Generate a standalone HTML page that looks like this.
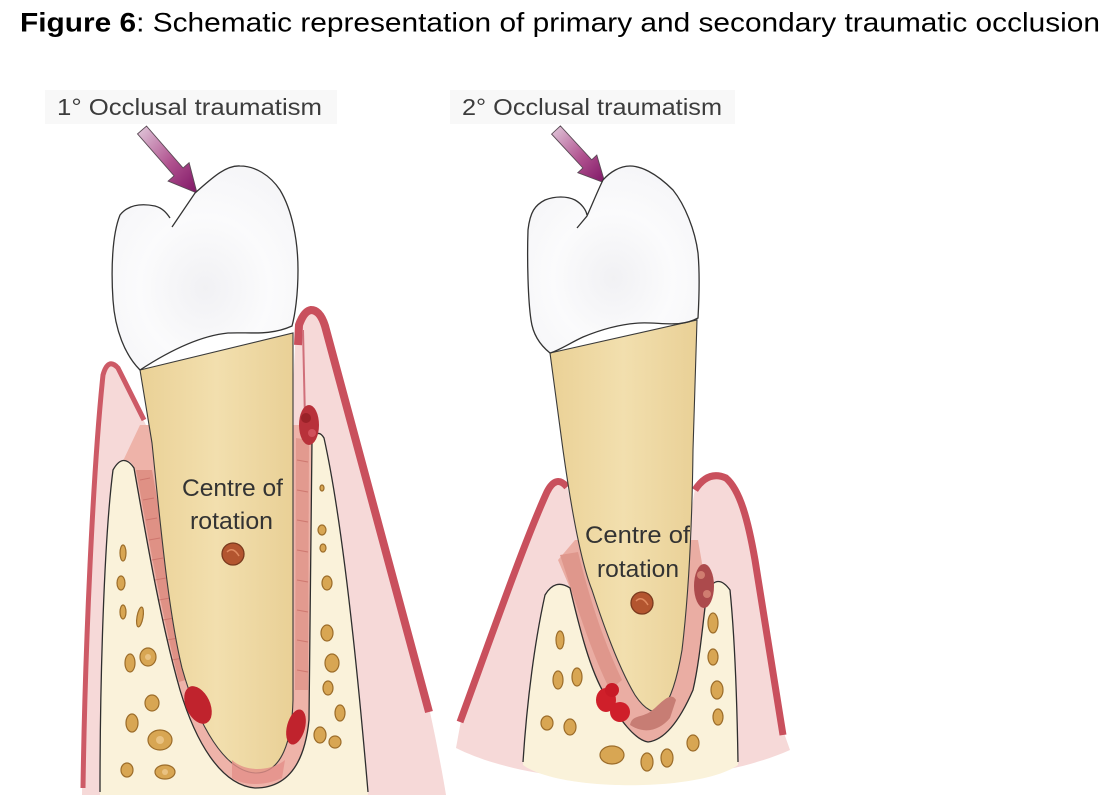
<!DOCTYPE html>
<html>
<head>
<meta charset="utf-8">
<style>
  html, body { margin: 0; padding: 0; background: #ffffff; }
  body { width: 1110px; height: 810px; overflow: hidden; }
  svg { display: block; }
  text { font-family: "Liberation Sans", Arial, sans-serif; }
</style>
</head>
<body>
<svg width="1110" height="810" viewBox="0 0 1110 810" xmlns="http://www.w3.org/2000/svg">
  <defs>
    <linearGradient id="arrowG" x1="0" y1="0" x2="1" y2="1">
      <stop offset="0" stop-color="#e2cbdc"/>
      <stop offset="0.55" stop-color="#b0528f"/>
      <stop offset="1" stop-color="#7e1565"/>
    </linearGradient>
    <radialGradient id="crownG" cx="0.5" cy="0.6" r="0.7">
      <stop offset="0" stop-color="#f1f1f4"/>
      <stop offset="0.5" stop-color="#fbfbfc"/>
      <stop offset="1" stop-color="#f4f4f7"/>
    </radialGradient>
    <linearGradient id="rootG" x1="0" y1="0" x2="1" y2="0">
      <stop offset="0" stop-color="#ead196"/>
      <stop offset="0.5" stop-color="#f2dfae"/>
      <stop offset="1" stop-color="#e9d096"/>
    </linearGradient>
  </defs>

  <rect width="1110" height="810" fill="#ffffff"/>

  <!-- Title -->
  <text x="20" y="31.5" font-size="27" fill="#000" textLength="1080" lengthAdjust="spacingAndGlyphs"><tspan font-weight="bold">Figure 6</tspan>: Schematic representation of primary and secondary traumatic occlusion</text>

  <!-- label backgrounds -->
  <rect x="45" y="90" width="292" height="34" fill="#f8f8f8"/>
  <rect x="450" y="90" width="285" height="34" fill="#f8f8f8"/>

  <!-- ================= LEFT FIGURE ================= -->
  <text x="57" y="115" font-size="23" fill="#3c3c3c" textLength="265" lengthAdjust="spacingAndGlyphs">1° Occlusal traumatism</text>

  <!-- arrow -->
  <polygon points="146.5,126.1 183.1,168.0 189.1,162.7 197,193 168.1,181.1 174.1,175.8 137.5,133.9" fill="url(#arrowG)" stroke="#5a4a55" stroke-width="0.9"/>

  <!-- gum pink -->
  <path d="M82,795 C84,650 92,470 103,375 Q108,357 118,368 L146,425 L210,795 Z" fill="#f6d9d8"/>
  <path d="M296,330 Q300,314 310,312 Q320,312 324,325 L430,712 C436,740 442,770 446,795 L270,795 Z" fill="#f6d9d8"/>

  <!-- bone -->
  <path d="M100,795 C100,680 104,540 113,470 Q123,452 134,468 C145,530 160,620 180,690 C195,740 220,785 255,788 C290,788 305,760 309,720 L312,440 Q318,428 324,438 C340,510 355,640 368,795 Z" fill="#faf2da"/>
  <!-- socket / PDL -->
  <path d="M123,461 Q130,458 134,468 C145,530 160,620 180,690 C195,740 220,785 255,788 C290,788 305,760 309,720 L312,440 L300,425 L140,425 Z" fill="#eeb3a9"/>
  <path d="M136,470 C147,530 161,610 179,682 L192,678 C176,610 163,532 152,470 Z" fill="#df9185"/>
  <path d="M296,438 L309,440 L308,690 L295,690 Z" fill="#e29a8f"/>
  <g stroke="#c96f68" stroke-width="1" fill="none" opacity="0.8">
    <path d="M140,480 L150,478 M143,500 L154,498 M146,520 L157,518 M149,540 L160,538 M152,560 L163,558 M155,580 L166,578 M159,600 L170,598 M163,620 L174,618 M167,640 L178,638 M172,660 L183,658"/>
    <path d="M297,460 L308,462 M297,490 L308,492 M297,520 L308,522 M297,550 L308,552 M297,580 L308,582 M297,610 L308,612 M297,640 L308,642 M297,670 L308,672"/>
  </g>
  <!-- bone outlines -->
  <path d="M100,792 C100,680 104,540 113,470 Q123,452 134,468 C145,530 160,620 180,690 C195,740 220,785 255,788 C290,788 305,760 309,720 L312,440 Q318,428 324,438 C340,510 355,640 368,792" fill="none" stroke="#2e2e2e" stroke-width="1.3"/>

  <!-- bone spots left fig -->
  <g fill="#d8a653" stroke="#9c6d2a" stroke-width="1.2">
    <ellipse cx="123" cy="553" rx="3" ry="8"/>
    <ellipse cx="121" cy="583" rx="4" ry="7"/>
    <ellipse cx="123" cy="612" rx="3" ry="7"/>
    <ellipse cx="140" cy="617" rx="3" ry="10" transform="rotate(10 140 617)"/>
    <ellipse cx="148" cy="657" rx="8" ry="9"/>
    <ellipse cx="130" cy="663" rx="5" ry="9"/>
    <ellipse cx="152" cy="703" rx="7" ry="8"/>
    <ellipse cx="132" cy="723" rx="6" ry="9"/>
    <ellipse cx="160" cy="740" rx="12" ry="10"/>
    <ellipse cx="127" cy="770" rx="6" ry="7"/>
    <ellipse cx="165" cy="772" rx="10" ry="7"/>
    <ellipse cx="322" cy="488" rx="2" ry="3"/>
    <ellipse cx="322" cy="530" rx="4" ry="5"/>
    <ellipse cx="323" cy="548" rx="3" ry="4"/>
    <ellipse cx="327" cy="583" rx="5" ry="7"/>
    <ellipse cx="327" cy="633" rx="6" ry="8"/>
    <ellipse cx="332" cy="663" rx="7" ry="9"/>
    <ellipse cx="328" cy="688" rx="5" ry="7"/>
    <ellipse cx="340" cy="713" rx="5" ry="8"/>
    <ellipse cx="320" cy="735" rx="6" ry="8"/>
    <ellipse cx="335" cy="742" rx="6" ry="6"/>
  </g>
  <g fill="#e9c282">
    <circle cx="160" cy="740" r="4"/><circle cx="148" cy="657" r="3"/><circle cx="165" cy="772" r="3"/>
  </g>

  <!-- gum red borders -->
  <path d="M83,788 C85,650 93,470 103,375 Q108,357 118,368 L144,420" fill="none" stroke="#cd5a66" stroke-width="5"/>
  <path d="M298,345 L299,325 Q304,311 311,310 Q320,310 325,326 L429,712" fill="none" stroke="#c9505d" stroke-width="8"/>
  <path d="M303,330 L305,420" fill="none" stroke="#d0707a" stroke-width="2"/>

  <!-- root -->
  <path d="M140,370 L152,443 C160,520 168,610 182,668 C198,725 225,772 256,773 C282,773 292,740 293,700 L293,333 Z" fill="url(#rootG)" stroke="#3a3a3a" stroke-width="1.1"/>

  <!-- crown -->
  <path d="M172,227 L195,193 C210,180 225,165 240,166 C255,166 270,175 280,190 C292,210 298,240 298,270 C298,295 295,315 292,326 C270,336 250,332 228,333 C198,336 166,353 140,370 C125,355 115,330 113,300 C111,270 112,235 120,215 C128,205 140,203 155,206 C162,208 166,212 170,218" fill="url(#crownG)" stroke="#333" stroke-width="1.3"/>

  <!-- red lesions left fig -->
  <ellipse cx="309" cy="425" rx="10" ry="20" fill="#b8313a"/>
  <circle cx="306" cy="418" r="5" fill="#9a2228"/>
  <circle cx="312" cy="433" r="4" fill="#d0505a"/>
  <ellipse cx="198" cy="705" rx="12" ry="20" transform="rotate(-25 198 705)" fill="#c0232d"/>
  <ellipse cx="296" cy="727" rx="9" ry="18" transform="rotate(15 296 727)" fill="#c0232d"/>
  <path d="M232,760 C245,772 270,772 285,760 L282,778 C265,786 245,786 232,778 Z" fill="#e48e88" opacity="0.8"/>

  <!-- text & centre -->
  <text x="182" y="496" font-size="24" fill="#333" textLength="101" lengthAdjust="spacingAndGlyphs">Centre of</text>
  <text x="190" y="529" font-size="24" fill="#333" textLength="83" lengthAdjust="spacingAndGlyphs">rotation</text>
  <circle cx="233" cy="554" r="11" fill="#b3552f" stroke="#7a3a1e" stroke-width="1.3"/>
  <path d="M227,552 Q233,546 239,556" fill="none" stroke="#e08a60" stroke-width="1.5"/>

  <!-- ================= RIGHT FIGURE ================= -->
  <text x="462" y="115" font-size="23" fill="#3c3c3c" textLength="260" lengthAdjust="spacingAndGlyphs">2° Occlusal traumatism</text>

  <polygon points="560.4,125.9 591.7,159.8 596.8,155.1 605,183 577.8,172.7 582.9,168.0 551.6,134.1" fill="url(#arrowG)" stroke="#5a4a55" stroke-width="0.9"/>

  <!-- gum pink -->
  <path d="M456,748 L462,715 C490,640 525,540 547,492 Q556,474 567,486 L575,520 L690,520 L695,488 Q708,470 725,477 C740,490 748,520 755,560 L784,733 L790,750 C700,790 540,790 456,748 Z" fill="#f6d9d8"/>

  <!-- bone -->
  <path d="M523,765 C527,700 535,640 545,595 Q555,578 570,588 C580,630 590,670 605,695 C620,720 635,740 648,742 C665,740 680,720 693,690 C700,660 703,620 707,592 Q717,572 730,590 C735,640 737,700 738,765 C700,792 560,792 523,765 Z" fill="#faf2da"/>
  <!-- socket / PDL -->
  <path d="M558,560 L570,588 C580,630 590,670 605,695 C620,720 635,740 648,742 C665,740 680,720 693,690 C700,660 703,620 707,592 L698,540 L575,540 Z" fill="#eaada3"/>
  <path d="M560,555 C575,600 590,650 610,690 L622,680 C603,640 590,600 578,552 Z" fill="#df978c"/>
  <path d="M523,762 C527,700 535,640 545,595 Q555,578 570,588 C580,630 590,670 605,695 C620,720 635,740 648,742 C665,740 680,720 693,690 C700,660 703,620 707,592 Q717,572 730,590 C735,640 737,700 738,762" fill="none" stroke="#2e2e2e" stroke-width="1.3"/>

  <g fill="#d8a653" stroke="#9c6d2a" stroke-width="1.2">
    <ellipse cx="560" cy="640" rx="4" ry="9"/>
    <ellipse cx="558" cy="680" rx="5" ry="9"/>
    <ellipse cx="577" cy="677" rx="5" ry="9"/>
    <ellipse cx="547" cy="723" rx="6" ry="7"/>
    <ellipse cx="570" cy="727" rx="6" ry="8"/>
    <ellipse cx="612" cy="755" rx="12" ry="9"/>
    <ellipse cx="647" cy="762" rx="6" ry="9"/>
    <ellipse cx="667" cy="758" rx="6" ry="9"/>
    <ellipse cx="693" cy="743" rx="6" ry="8"/>
    <ellipse cx="713" cy="623" rx="5" ry="10"/>
    <ellipse cx="713" cy="657" rx="5" ry="8"/>
    <ellipse cx="717" cy="690" rx="6" ry="9"/>
    <ellipse cx="718" cy="717" rx="5" ry="8"/>
  </g>

  <!-- gum red borders -->
  <path d="M460,722 C490,640 525,540 547,492 Q556,474 567,487" fill="none" stroke="#c9505d" stroke-width="7"/>
  <path d="M695,490 Q708,470 726,478 C740,490 748,520 755,560 L783,735" fill="none" stroke="#c9505d" stroke-width="7"/>

  <!-- root -->
  <path d="M550,353 L563,450 C570,500 580,560 592,590 C605,630 620,670 635,695 C645,710 655,715 662,710 C670,700 677,680 682,650 C688,600 692,530 693,450 L697,320 Z" fill="url(#rootG)" stroke="#3a3a3a" stroke-width="1.1"/>

  <!-- crown -->
  <path d="M577,228 L587,216 C592,205 598,190 603,180 C610,172 620,166 630,166 C640,166 655,172 673,190 C685,205 695,230 698,253 C700,275 699,300 698,318 C680,328 660,322 640,323 C620,324 600,330 583,337 C570,343 560,350 550,353 C540,345 533,335 531,320 C528,300 527,260 528,230 C530,212 535,205 545,200 C555,196 567,196 575,200 C582,204 586,210 587,215" fill="url(#crownG)" stroke="#333" stroke-width="1.3"/>

  <!-- lesions right fig -->
  <ellipse cx="606" cy="700" rx="10" ry="12" fill="#cf1f2a"/>
  <ellipse cx="620" cy="712" rx="10" ry="10" fill="#cf1f2a"/>
  <ellipse cx="612" cy="690" rx="7" ry="7" fill="#c81a26"/>
  <path d="M630,725 C645,735 660,730 670,718 L676,700 C670,690 660,705 650,712 C640,718 632,715 630,725 Z" fill="#c77d74"/>
  <ellipse cx="704" cy="586" rx="10" ry="22" fill="#ac4a4c"/>
  <circle cx="701" cy="575" r="4" fill="#d07d70"/>
  <circle cx="707" cy="594" r="4" fill="#d07d70"/>

  <text x="585" y="543" font-size="24" fill="#333" textLength="105" lengthAdjust="spacingAndGlyphs">Centre of</text>
  <text x="597" y="577" font-size="24" fill="#333" textLength="82" lengthAdjust="spacingAndGlyphs">rotation</text>
  <circle cx="642" cy="603" r="11" fill="#b3552f" stroke="#7a3a1e" stroke-width="1.3"/>
  <path d="M636,601 Q642,595 648,605" fill="none" stroke="#e08a60" stroke-width="1.5"/>
</svg>
</body>
</html>
